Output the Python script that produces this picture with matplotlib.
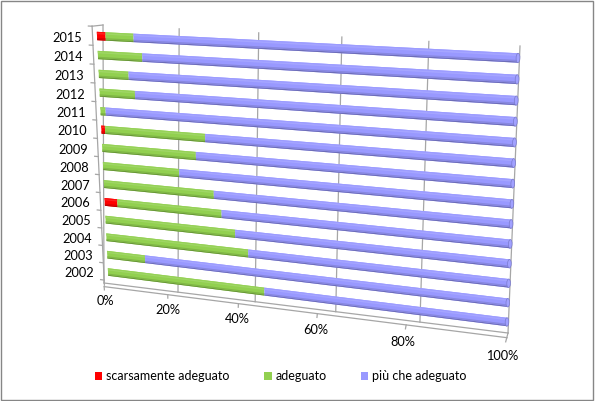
import numpy as np
import matplotlib
matplotlib.use("Agg")
import matplotlib.pyplot as plt
import matplotlib.colors as mcolors
import matplotlib.transforms as mtransforms
from matplotlib.patches import Patch, Ellipse, Rectangle

plt.rcParams['font.family'] = ['Lato', 'DejaVu Sans']

# data (percent of respondents per year)
years = ['2002', '2003', '2004', '2005', '2006', '2007', '2008',
         '2009', '2010', '2011', '2012', '2013', '2014', '2015']
scarsamente = [0, 0, 0, 0, 3.5, 0, 0, 0, 1.0, 0, 0, 0, 0, 2.3]
adeguato = [42.0, 10.5, 38.0, 34.7, 27.8, 29.4, 20.5, 25.0, 26.5, 1.4, 9.5, 8.0, 11.8, 7.4]
piu_che = [58.0, 89.5, 62.0, 65.3, 68.7, 70.6, 79.5, 75.0, 72.5, 98.6, 90.5, 92.0, 88.2, 90.3]
series_names = ['scarsamente adeguato', 'adeguato', 'più che adeguato']
colors = ['#ff0000', '#92d050', '#9999ff']
ticks = [0, 20, 40, 60, 80, 100]
tick_labels = ['0%', '20%', '40%', '60%', '80%', '100%']


def homography(src, dst):
    A, b = [], []
    for (x, y), (X, Y) in zip(src, dst):
        A.append([x, y, 1, 0, 0, 0, -X * x, -X * y]); b.append(X)
        A.append([0, 0, 0, x, y, 1, -Y * x, -Y * y]); b.append(Y)
    h = np.linalg.solve(np.array(A, float), np.array(b, float))
    return np.append(h, 1).reshape(3, 3)


class Persp(mtransforms.Transform):
    """fake 3d: maps a flat (value, row) plane onto a tilted quad"""
    input_dims = 2
    output_dims = 2

    def __init__(self, H):
        super().__init__()
        self.H = H

    def transform_non_affine(self, values):
        v = np.atleast_2d(np.asarray(values, float))
        p = np.column_stack([v, np.ones(len(v))]) @ self.H.T
        return p[:, :2] / p[:, 2:]


def shade(c, f):
    rgb = np.array(mcolors.to_rgb(c))
    if f < 1:
        return rgb * f
    return rgb + (1 - rgb) * (f - 1)


fig = plt.figure(figsize=(5.95, 4.01), dpi=100)
ax = fig.add_axes([0, 0, 1, 1])
ax.set_autoscale_on(False)
ax.set_xlim(0, 595)
ax.set_ylim(401, 0)
ax.axis('off')

n = len(years)
# corners of the three planes in image pixels
T_bar = Persp(homography([(0, n - 1), (100, n - 1), (0, 0), (100, 0)],
                         [(97, 36), (518, 58), (108, 272), (507, 322)])) + ax.transData
T_wall = Persp(homography([(0, 0), (100, 0), (0, 1), (100, 1)],
                          [(104, 283), (508, 333), (103, 25), (520, 46)])) + ax.transData
T_floor = Persp(homography([(0, 0), (100, 0), (0, 1), (100, 1)],
                           [(104, 283), (508, 333), (105, 301), (502, 356)])) + ax.transData

grid_c = '#a6a6a6'
# back wall gridlines
for t in ticks:
    ax.plot([t, t], [0, 1], transform=T_wall, color=grid_c, lw=0.9, zorder=1)
# floor
ax.plot([0, 100], [0, 0], transform=T_floor, color=grid_c, lw=0.9, zorder=1)
ax.plot([0, 100], [0.2, 0.2], transform=T_floor, color=grid_c, lw=0.9, zorder=1)
ax.plot([100, 100], [0, 0.2], transform=T_floor, color=grid_c, lw=0.9, zorder=1)
for t, lab in zip(ticks, tick_labels):
    ax.plot([t, t], [0.2, 0.38], transform=T_floor, color=grid_c, lw=0.9, zorder=1)
    ax.text(t, 1, lab, transform=T_floor, ha='center', va='center',
            fontsize=9.2, color='#000000')

# category axis on the left side
ax.plot([-1.2, -1.2], [-0.8, n - 0.5], transform=T_bar, color=grid_c, lw=0.9, zorder=1)
p1 = T_wall.transform((0, 1))
p2 = T_bar.transform((-1.2, n - 0.5))
ax.plot([p1[0], p2[0]], [p1[1], p2[1]], transform=mtransforms.IdentityTransform(),
        color=grid_c, lw=0.9, zorder=1)
for k in range(n + 1):
    ax.plot([-1.2, -2.2], [k - 0.5, k - 0.5], transform=T_bar, color=grid_c, lw=0.9, zorder=1)
lab_off = T_bar + mtransforms.Affine2D().translate(0, -3)
for k, y in enumerate(years):
    ax.text(-4, k, y, transform=lab_off, ha='right', va='center',
            fontsize=9.2, color='#000000')

# cylinders, drawn as shaded strips
rows = np.arange(n)
bh = 0.44
bands = [(-0.22, -0.16, 0.72), (-0.16, -0.09, 0.88), (0.09, 0.17, 1.12),
         (0.17, 0.22, 1.04)]
lefts = np.zeros(n)
for vals, col in zip([scarsamente, adeguato, piu_che], colors):
    vals = np.array(vals, float)
    ax.barh(rows, vals, height=bh, left=lefts, color=col, transform=T_bar,
            linewidth=0, zorder=3)
    for lo, hi, f in bands:
        ax.barh(rows + (lo + hi) / 2, vals, height=hi - lo, left=lefts,
                color=shade(col, f), transform=T_bar, linewidth=0, zorder=4)
    lefts = lefts + vals
# end caps of the cylinders
for k in rows:
    ax.add_patch(Ellipse((lefts[k], k), 0.8, bh, transform=T_bar,
                         facecolor=shade(colors[2], 1.08), edgecolor=shade(colors[2], 0.8),
                         lw=0.5, zorder=5))

handles = [Patch(facecolor=c, edgecolor='none') for c in colors]
fig.legend(handles, series_names, loc='center left', ncol=3, frameon=False,
           bbox_to_anchor=(95 / 595, 1 - 376 / 401), borderaxespad=0, borderpad=0,
           fontsize=9, handlelength=0.6, handleheight=0.6, handletextpad=0.3,
           columnspacing=2.75)

fig.add_artist(Rectangle((0.001, 0.002), 0.996, 0.996, transform=fig.transFigure,
                         fill=False, edgecolor='#868686', lw=1))

fig.savefig('out.png', dpi=100)
